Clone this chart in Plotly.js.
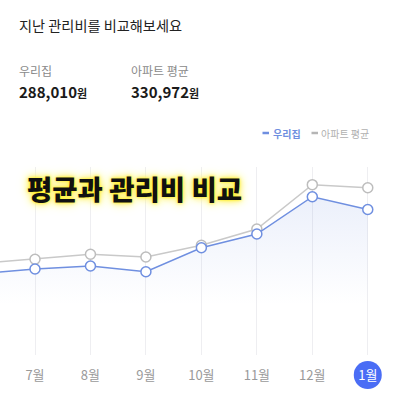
<!DOCTYPE html>
<html>
<head>
<meta charset="utf-8">
<script src="https://cdn.plot.ly/plotly-3.0.1.min.js"></script>
<style>
html,body{margin:0;padding:0;background:#fff;}
#chart{width:396px;height:403px;}
</style>
</head>
<body>
<div id="chart"></div>
<script>
const months = ['6월','7월','8월','9월','10월','11월','12월','1월'];
const ourHome = [160700, 170200, 176100, 164800, 212300, 239400, 313200, 288010];
const aptAvg  = [181000, 189400, 199300, 193900, 217100, 249300, 337000, 330972];
const seriesNames = ['우리집', '아파트 평균'];
const headerTitle = '지난 관리비를 비교해보세요';
const overlayTitle = '평균과 관리비 비교';
const unit = '원';

const BLUE = '#6f8fe0';
const GREY = '#c9c9c9';
const FONT = '"Noto Sans CJK KR", "Noto Sans", sans-serif';

const fmt = v => v.toLocaleString('en-US');
const last = months.length - 1;

const W = 396, H = 403, T = 167, B = 48;
const plotH = H - T - B;
const py = p => (H - B - p) / plotH;   // pixel row -> paper y
const px = p => p / W;                 // pixel col -> paper x

const traces = [
  {
    x: months, y: aptAvg, name: seriesNames[1], type: 'scatter', mode: 'lines+markers',
    line: {color: GREY, width: 1.5},
    marker: {size: 10, color: '#fff', line: {color: '#bdbdbd', width: 1.5}},
    hoverinfo: 'skip'
  },
  {
    x: months, y: ourHome, name: seriesNames[0], type: 'scatter', mode: 'lines+markers',
    fill: 'tozeroy',
    fillgradient: {
      type: 'vertical',
      start: 100000, stop: 320000,
      colorscale: [[0, 'rgba(111,143,224,0)'], [1, 'rgba(111,143,224,0.14)']]
    },
    line: {color: BLUE, width: 1.5},
    marker: {size: 10, color: '#fff', line: {color: BLUE, width: 1.5}},
    hoverinfo: 'skip'
  }
];

const layout = {
  width: W, height: H,
  margin: {l: 0, r: 0, t: T, b: B, pad: 0},
  paper_bgcolor: '#fff', plot_bgcolor: '#fff',
  showlegend: false,
  font: {family: FONT},
  xaxis: {
    type: 'category',
    range: [0.369, 7.509],
    tickmode: 'array',
    tickvals: months,
    ticktext: months.map((m, i) => i === last ? '<span style="color:#ffffff">' + m + '</span>' : m),
    tickfont: {size: 13, color: '#9a9a9a', family: FONT},
    ticks: 'outside', ticklen: 8, tickcolor: 'rgba(0,0,0,0)',
    showgrid: true, gridcolor: '#eeeef1', gridwidth: 1,
    zeroline: false, showline: false, fixedrange: true
  },
  yaxis: {
    range: [0, 372000],
    visible: false, showgrid: false, zeroline: false, fixedrange: true
  },
  shapes: [
    {
      type: 'circle', layer: 'below',
      xref: 'x', yref: 'paper',
      xsizemode: 'pixel', ysizemode: 'pixel',
      xanchor: months[last], yanchor: 0,
      x0: -14, x1: 14, y0: -34, y1: -6,
      fillcolor: '#4a6df5', line: {width: 0}
    },
    {type: 'line', xref: 'paper', yref: 'paper', x0: px(262.5), x1: px(269), y0: py(133), y1: py(133), line: {color: BLUE, width: 2.5}},
    {type: 'line', xref: 'paper', yref: 'paper', x0: px(311.5), x1: px(318), y0: py(133), y1: py(133), line: {color: '#b5b5b5', width: 2.5}}
  ],
  annotations: [
    {text: headerTitle, xref: 'paper', yref: 'paper', x: px(17), y: py(25), xanchor: 'left', yanchor: 'middle', showarrow: false,
     font: {size: 14.2, color: '#222', family: FONT}},
    {text: seriesNames[0], xref: 'paper', yref: 'paper', x: px(17), y: py(70), xanchor: 'left', yanchor: 'middle', showarrow: false,
     font: {size: 12, color: '#8a8a8a', family: FONT}},
    {text: seriesNames[1], xref: 'paper', yref: 'paper', x: px(129), y: py(70), xanchor: 'left', yanchor: 'middle', showarrow: false,
     font: {size: 12, color: '#8a8a8a', family: FONT}},
    {text: '<b>' + fmt(ourHome[last]) + '</b><span style="font-size:11px"><b>' + unit + '</b></span>', xref: 'paper', yref: 'paper', x: px(17), y: py(91), xanchor: 'left', yanchor: 'middle', showarrow: false,
     font: {size: 15, color: '#1a1a1a', family: FONT}},
    {text: '<b>' + fmt(aptAvg[last]) + '</b><span style="font-size:11px"><b>' + unit + '</b></span>', xref: 'paper', yref: 'paper', x: px(129), y: py(91), xanchor: 'left', yanchor: 'middle', showarrow: false,
     font: {size: 15, color: '#1a1a1a', family: FONT}},
    {text: '<b>' + seriesNames[0] + '</b>', xref: 'paper', yref: 'paper', x: px(271), y: py(133), xanchor: 'left', yanchor: 'middle', showarrow: false,
     font: {size: 10, color: BLUE, family: FONT}},
    {text: seriesNames[1], xref: 'paper', yref: 'paper', x: px(319), y: py(133), xanchor: 'left', yanchor: 'middle', showarrow: false,
     font: {size: 10, color: '#b0b0b0', family: FONT}},
    {text: overlayTitle, xref: 'paper', yref: 'paper', x: px(134), y: py(188), xanchor: 'center', yanchor: 'middle', showarrow: false,
     font: {size: 27.5, color: '#111', family: FONT, weight: 900,
            shadow: '0 0 3px #ffee00, 0 0 6px #fff04a, 0 0 10px #fff58c, 0 0 14px #fff9b8'}}
  ]
};

Plotly.newPlot('chart', traces, layout, {displayModeBar: false, staticPlot: true});
</script>
</body>
</html>
